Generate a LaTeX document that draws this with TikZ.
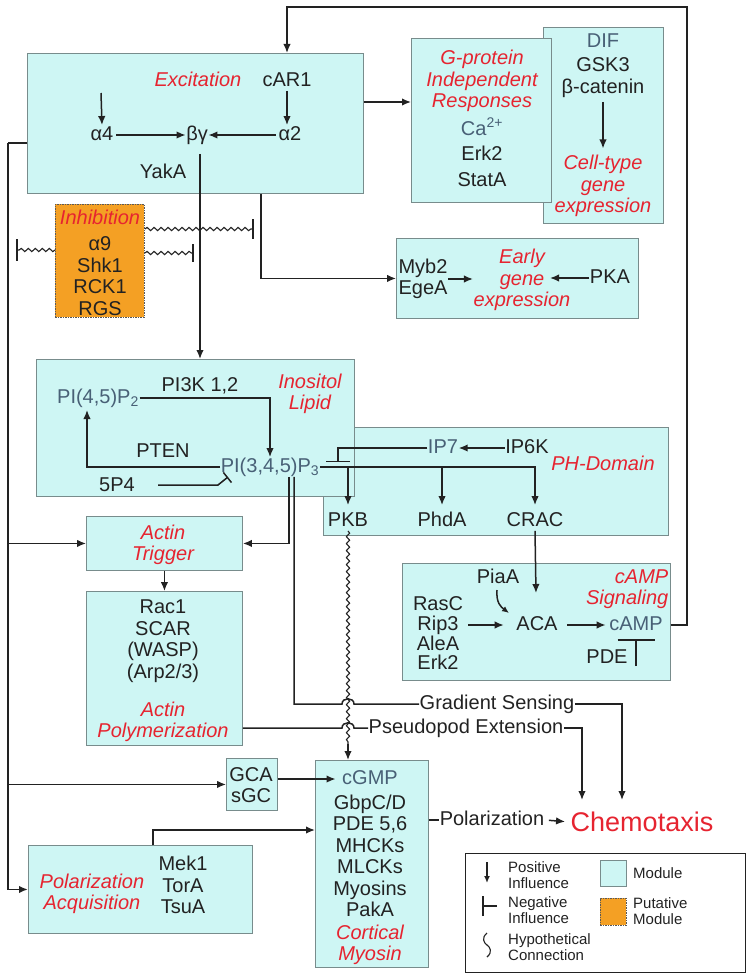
\documentclass[tikz,border=0pt]{standalone}
\usepackage{fontspec}
\setmainfont{Liberation Sans}
\usetikzlibrary{arrows.meta,decorations.pathmorphing}
\definecolor{modfill}{RGB}{206,246,244}
\definecolor{modline}{RGB}{120,140,140}
\definecolor{putfill}{RGB}{244,160,36}
\definecolor{lblred}{RGB}{230,36,48}
\definecolor{molgray}{RGB}{72,96,118}
\definecolor{ink}{RGB}{34,34,34}
\tikzset{
  t/.style={font=\fontsize{20}{21.5}\selectfont, text=ink, inner sep=0.5pt, align=center},
  s/.style={text height=14.5pt, text depth=4pt},
  mol/.style={t, s},
  mmol/.style={t},
  gmol/.style={t, s, text=molgray},
  lbl/.style={t, s, text=lblred, font=\fontsize{20}{21.5}\selectfont\itshape},
  mlbl/.style={t, text=lblred, font=\fontsize{20}{21.5}\selectfont\itshape},
  leg/.style={font=\fontsize{15}{16}\selectfont, text=ink, inner sep=0pt, align=left, anchor=west},
  module/.style={draw=modline, fill=modfill, line width=0.9pt, inner sep=0pt, anchor=north west},
  putative/.style={draw=black!65, dash pattern=on 1.5pt off 1pt, fill=putfill, line width=0.9pt, inner sep=0pt, anchor=north west},
  link/.style={draw=ink, line width=1.5pt},
  arr/.style={link, -{Latex[length=9pt,width=7.5pt]}},
  wavy/.style={draw=ink, line width=1.1pt, decorate, decoration={snake, amplitude=1.6pt, segment length=7pt}},
}
\begin{document}
\begin{tikzpicture}[x=1pt,y=-1pt]
\useasboundingbox (0,0) rectangle (749,974);

% ---------- module boxes ----------
\node[module, minimum width=120pt, minimum height=196pt] (difbox) at (543,27) {};
\node[module, minimum width=140pt, minimum height=164pt] (gbox) at (411,38) {};
\node[module, minimum width=336pt, minimum height=140pt] (exbox) at (27,53) {};
\node[module, minimum width=242pt, minimum height=80pt] (earlybox) at (396,238) {};
\node[putative, minimum width=89pt, minimum height=113pt] (inhbox) at (55,204) {};
\node[module, minimum width=345pt, minimum height=108pt] (phbox) at (323,427) {};
\node[module, minimum width=318pt, minimum height=137pt] (inobox) at (36,359) {};
\node[module, minimum width=268pt, minimum height=117pt] (campbox) at (402,563) {};
\node[module, minimum width=156pt, minimum height=54pt] (trigbox) at (86,516) {};
\node[module, minimum width=156pt, minimum height=154pt] (polybox) at (86,591) {};
\node[module, minimum width=51pt, minimum height=52pt] (gcabox) at (226,758) {};
\node[module, minimum width=113pt, minimum height=207pt] (cortbox) at (315,760) {};
\node[module, minimum width=224pt, minimum height=88pt] (pacqbox) at (28,845) {};
\node[draw=ink, line width=1pt, minimum width=280pt, minimum height=119pt, inner sep=0pt, anchor=north west] (legbox) at (465,853) {};

% ---------- Excitation ----------
\node[lbl] (exlbl) at (198,81) {Excitation};
\node[mol] (car1) at (287,81) {cAR1};
\node[mol] (a4) at (102,135) {α4};
\node[mol] (bg) at (197,135) {βγ};
\node[mol] (a2) at (290,135) {α2};
\node[mol] (yaka) at (163,173) {YakA};
\coordinate (a4src) at (101,93);
\draw[arr] (a4src) -- (a4.north);
\draw[arr] (car1.south) -- (car1.south |- a2.north);
\draw[arr, shorten <=2pt] (a4.east) -- (bg.west);
\draw[arr, shorten <=2pt] (a2.west) -- (bg.east);

% ---------- G-protein / DIF ----------
\node[mlbl] (glbl) at (482,81) {G-protein\\Independent\\Responses};
\node[gmol] (ca) at (482,130) {Ca\textsuperscript{2+}};
\node[mol] (erk2a) at (482,155) {Erk2};
\node[mol] (stata) at (482,181) {StatA};
\node[gmol] (dif) at (603,42) {DIF};
\node[mol] (gsk3) at (603,66) {GSK3};
\node[mol] (bcat) at (603,88) {β-catenin};
\node[mlbl] (celltype) at (603,186) {Cell-type\\gene\\expression};
\draw[arr, shorten <=4pt, shorten >=6pt] (bcat.south) -- (celltype.north);

% ---------- Early gene ----------
\node[mmol] (myb) at (423,279) {Myb2\\EgeA};
\node[mlbl] (early) at (522,280) {Early\\gene\\expression};
\node[mol] (pka) at (610,278) {PKA};
\coordinate (earlyR) at (550,278);
\draw[arr] (myb.east) -- (early.west |- myb.east);
\draw[arr] (pka.west) -- (earlyR);

% ---------- Inhibition ----------
\node[lbl] (inhlbl) at (100,219) {Inhibition};
\node[mmol] (inhlist) at (100,276) {α9\\Shk1\\RCK1\\RGS};
\coordinate (w1e) at (253,229);
\coordinate (w2e) at (193,253);
\coordinate (w3e) at (17,250);
\draw[wavy] (inhbox.east |- w1e) -- (w1e);
\draw[link] (w1e) ++(0,-10) -- ++(0,20);
\draw[wavy] (inhbox.east |- w2e) -- (w2e);
\draw[link] (w2e) ++(0,-9) -- ++(0,18);
\draw[wavy] (inhbox.west |- w3e) -- (w3e);
\draw[link] (w3e) ++(0,-11) -- ++(0,22);

% ---------- connectors from Excitation ----------
\draw[arr, shorten <=9pt] (bg.south -| 200,0) -- (inobox.north -| 200,0);
\draw[arr] (exbox.east |- 0,102) -- (gbox.west |- 0,102);
\draw[arr] (exbox.south -| 261,0) |- (earlybox.west);
\coordinate (trk) at (8,143);
\draw[link, line width=1.8pt] (exbox.west |- trk) -- (trk);
\draw[arr, line width=1.8pt] (trk) |- (pacqbox.west);
\draw[arr] (trk |- trigbox.west) -- (trigbox.west);
\draw[arr] (trk |- gcabox.west) -- (gcabox.west);

% ---------- Inositol lipid ----------
\node[mlbl] (inolbl) at (310,394) {Inositol\\Lipid};
\node[gmol] (pip2) at (98,398) {PI(4,5)P\textsubscript{2}};
\node[mol] (pi3k) at (200,386) {PI3K 1,2};
\node[gmol] (pip3) at (270,467) {PI(3,4,5)P\textsubscript{3}};
\node[mol] (pten) at (163,452) {PTEN};
\node[mol] (p54) at (117,486) {5P4};
\coordinate (pip2in) at (87,410);
\coordinate (p54s) at (158,485);
\coordinate (p54k) at (218,485);
\coordinate (p54e) at (228,477);
\draw[arr] (pip2.east) -| (pip3.north);
\draw[arr] (pip3.west) -| (pip2in);
\draw[link, -{Bar[width=13pt]}] (p54s) -- (p54k) -- (p54e);

% ---------- PH domain ----------
\node[gmol] (ip7) at (443,448) {IP7};
\node[mol] (ip6k) at (527,448) {IP6K};
\node[lbl] (phlbl) at (603,465) {PH-Domain};
\node[mol] (pkb) at (348,521) {PKB};
\node[mol] (phda) at (442,521) {PhdA};
\node[mol] (crac) at (535,521) {CRAC};
\coordinate (ip7bar) at (338,462);
\draw[arr] (ip6k.west) -- (ip7.east);
\draw[link, -{Bar[width=24pt]}] (ip7.west) -| (ip7bar);
\draw[arr, shorten >=6pt] (pip3.east) -| (crac.north);
\draw[arr, shorten >=6pt] (pkb.north |- pip3.east) -- (pkb.north);
\draw[arr, shorten >=6pt] (phda.north |- pip3.east) -- (phda.north);

% ---------- cAMP signaling ----------
\node[mol] (piaa) at (498,578) {PiaA};
\node[mlbl, align=right, anchor=east] (camplbl) at (669,589) {cAMP\\Signaling};
\node[mol] (rasc) at (438,605) {RasC};
\node[mol] (rip3) at (438,625) {Rip3};
\node[mol] (alea) at (438,645) {AleA};
\node[mol] (erk2b) at (438,664) {Erk2};
\node[mol] (aca) at (537,625) {ACA};
\node[gmol] (camp) at (636,625) {cAMP};
\node[mol] (pde) at (607,658) {PDE};
\coordinate (acaIn) at (536,593);
\coordinate (piaS) at (497,590);
\coordinate (piaE) at (509,613);
\coordinate (pdeBot) at (636,666);
\coordinate (pdeTop) at (636,639);
\draw[arr] (crac.south) -- (acaIn);
\draw[arr, shorten <=9pt, shorten >=12pt] (rip3.east) -- (aca.west);
\draw[arr, shorten <=9pt, shorten >=3pt] (aca.east) -- (camp.west);
\draw[link, -{Latex[length=7pt,width=6pt]}] (piaS) .. controls (496,603) and (501,607) .. (piaE);
\draw[link, -{Bar[width=37pt]}] (pdeBot) -- (pdeTop);

% feedback cAMP -> cAR1
\coordinate (fbTR) at (687,7);
\coordinate (fbTL) at (287,7);
\draw[arr] (camp.east -| campbox.east) -| (fbTR) -- (fbTL) -- (car1.north |- exbox.north);

% ---------- Actin ----------
\node[mlbl] (triglbl) at (163,545) {Actin\\Trigger};
\node[mmol] (polylist) at (163,641) {Rac1\\SCAR\\(WASP)\\(Arp2/3)};
\node[mlbl] (polylbl) at (163,722) {Actin\\Polymerization};
\draw[arr] (trigbox.south) -- (polybox.north);
\draw[arr] (pip3.south -| 289,0) |- (trigbox.east);

% ---------- Gradient sensing / Pseudopod ----------
\node[mol] (grad) at (497,704) {Gradient Sensing};
\node[mol] (pseudo) at (466,728) {Pseudopod Extension};
\node[t, text=lblred, font=\fontsize{27}{30}\selectfont] (chemo) at (642,822) {Chemotaxis};
\coordinate (gIn) at (622,800);
\coordinate (pIn) at (582,800);
\coordinate (wvE) at (348,744);
\draw[wavy] (pkb.south) -- (wvE);
\draw[arr] (wvE) -- (cortbox.north -| wvE);
\draw[link] (pip3.south -| 294,0) -- (294,704) -- (342,704) .. controls (342,697) and (354,697) .. (354,704) -- (grad.west);
\draw[arr] (grad.east) -| (gIn);
\draw[link] (polybox.east |- 0,728) -- (342,728) .. controls (342,721) and (354,721) .. (354,728) -- (pseudo.west);
\draw[arr] (pseudo.east) -| (pIn);

% ---------- GCA / cortical myosin ----------
\node[mmol] (gcalist) at (251,785) {GCA\\sGC};
\node[gmol] (cgmp) at (370,779) {cGMP};
\node[mmol] (cortlist) at (370,856) {GbpC/D\\PDE 5,6\\MHCKs\\MLCKs\\Myosins\\PakA};
\node[mlbl] (cortlbl) at (370,945) {Cortical\\Myosin};
\draw[arr, shorten >=6pt] (gcabox.east |- cgmp.west) -- (cgmp.west);

% ---------- Polarization ----------
\node[mlbl] (pacqlbl) at (92,894) {Polarization\\Acquisition};
\node[mmol] (pacqlist) at (183,885) {Mek1\\TorA\\TsuA};
\draw[arr] (pacqbox.north -| 153,0) |- (cortbox.west |- 0,830);
\node[mol] (polz) at (492,820) {Polarization};
\draw[link] (cortbox.east |- polz) -- (polz.west);
\draw[arr, shorten <=4pt, shorten >=5pt] (polz.east) -- (chemo.west);

% ---------- Legend ----------
\coordinate (legA1) at (487,862);
\coordinate (legA2) at (487,883);
\coordinate (legB1) at (497,906);
\coordinate (legB2) at (482,906);
\draw[link, -{Latex[length=7pt,width=6pt]}] (legA1) -- (legA2);
\node[leg] (legpos) at (508,875) {Positive\\Influence};
\draw[link, -{Bar[width=20pt]}] (legB1) -- (legB2);
\node[leg] (legneg) at (508,910) {Negative\\Influence};
\draw[draw=ink, line width=1.1pt] (487,933) .. controls (481,938) and (484,943) .. (487,945) .. controls (490,947) and (493,952) .. (487,957);
\node[leg] (leghyp) at (508,947) {Hypothetical\\Connection};
\node[module, minimum width=26pt, minimum height=26pt] (legmod) at (600,860) {};
\node[leg] (legmodt) at (633,873) {Module};
\node[putative, minimum width=26pt, minimum height=27pt] (legput) at (600,898) {};
\node[leg] (legputt) at (633,911) {Putative\\Module};
\end{tikzpicture}
\end{document}
